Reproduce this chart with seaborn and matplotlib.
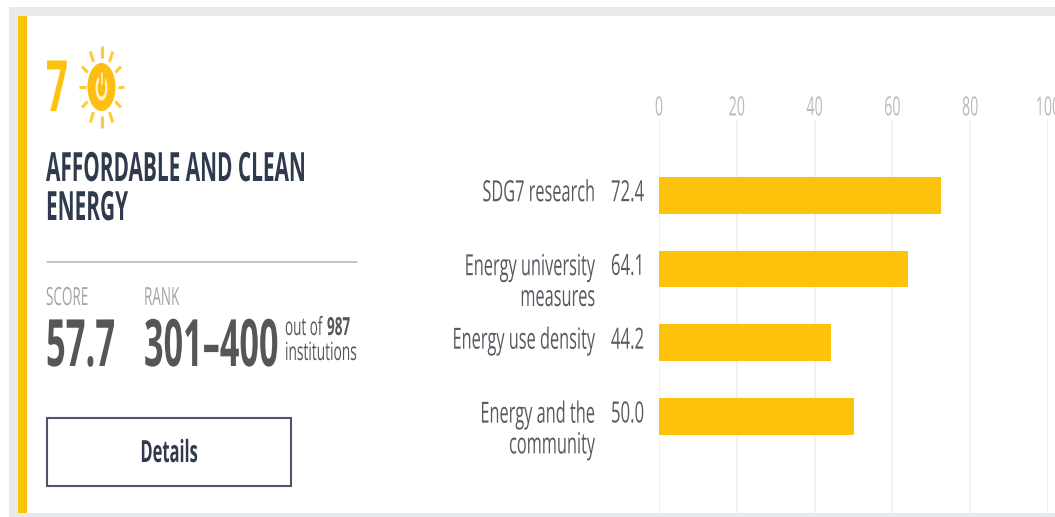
import numpy as np
import pandas as pd
import matplotlib
matplotlib.use("Agg")
import matplotlib.pyplot as plt
import matplotlib.patheffects as pe
from matplotlib.patches import Rectangle, Ellipse
from matplotlib.transforms import Affine2D, Bbox, ScaledTranslation
import seaborn as sns

# data
indicators = ["SDG7 research", "Energy university\nmeasures", "Energy use density", "Energy and the\ncommunity"]
scores = [72.4, 64.1, 44.2, 50.0]
x_ticks = [0, 20, 40, 60, 80, 100]

W, H = 1055, 517
YELLOW = "#fdc30c"
NAVY = "#303a4e"
DARK = "#565656"
GREY = "#a3a3a3"
LABEL = "#565b62"


# the reference is stretched: narrow every text around its own anchor
class Squeeze(pe.AbstractPathEffect):
    def __init__(self, text, sx):
        super().__init__()
        self.text = text
        self.sx = sx

    def transform(self):
        x0 = self.text.get_transform().transform(self.text.get_unitless_position())[0]
        return Affine2D().translate(-x0, 0).scale(self.sx, 1).translate(x0, 0)

    def draw_path(self, renderer, gc, tpath, affine, rgbFace=None):
        renderer.draw_path(gc, tpath, affine + self.transform(), rgbFace)


def narrow(t, sx=0.54):
    effect = Squeeze(t, sx)
    t.set_path_effects([effect])
    full_extent = t.get_window_extent

    # report the box that is really inked
    def extent(renderer=None, dpi=None):
        return Bbox(full_extent(renderer, dpi)).transformed(effect.transform())

    t.get_window_extent = extent
    return t


sns.set_theme(style="white")
plt.rcParams["font.family"] = ["Open Sans", "DejaVu Sans"]

df = pd.DataFrame({"indicator": indicators, "score": scores})

fig = plt.figure(figsize=(W / 100, H / 100), dpi=100, facecolor="white")

# pixel canvas for the card
bg = fig.add_axes([0, 0, 1, 1], zorder=0)
bg.set_xlim(0, W)
bg.set_ylim(H, 0)
bg.axis("off")
bg.add_patch(Rectangle((9, 7), W - 9, H - 7, fc="#e8ebee", ec="none"))
bg.add_patch(Rectangle((18, 16), W - 18, 497, fc="white", ec="none"))
bg.add_patch(Rectangle((18, 16), 9, 497, fc=YELLOW, ec="none"))

# sun icon
cx, cy = 101.5, 87
for a in np.deg2rad(np.arange(0, 360, 30)):
    bg.plot([cx + 16 * np.cos(a), cx + 22.5 * np.cos(a)],
            [cy + 29 * np.sin(a), cy + 41 * np.sin(a)],
            color="#fdcb3a", lw=2.2, solid_capstyle="butt")
bg.add_patch(Ellipse((cx, cy), 28, 48, fc="#fdbd12", ec="none"))
bg.add_patch(Ellipse((cx, cy + 1), 12, 25, fc="#fff3c8", ec="none"))
bg.add_patch(Ellipse((cx, cy + 1), 7.5, 17, fc="#fdbd12", ec="none"))
bg.add_patch(Rectangle((cx - 3, cy - 15), 6, 11, fc="#fdbd12", ec="none"))
bg.plot([cx, cx], [cy - 14, cy - 3], color="#fff3c8", lw=1.1)


def label(x, y, s, size, color, weight="normal", ha="left", sx=0.54):
    return narrow(bg.text(x, y, s, fontsize=size, color=color, fontweight=weight, ha=ha, va="baseline"), sx)


label(46, 111, "7", 51, YELLOW, "bold")
label(46, 181, "AFFORDABLE AND CLEAN", 29, NAVY, "bold", sx=0.517)
label(46, 220, "ENERGY", 29, NAVY, "bold", sx=0.517)
bg.plot([47, 357], [262, 262], color="#b5b3b3", lw=1.1)
label(46, 305, "SCORE", 18, GREY)
label(144, 305, "RANK", 18, GREY)
label(46, 366, "57.7", 47, DARK, "bold", sx=0.53)
label(144, 366, "301–400", 47, DARK, "bold", sx=0.525)
label(285, 335, "out of", 18, DARK)
label(327, 335, "987", 18, DARK, "bold")
label(285, 360, "institutions", 18, DARK, sx=0.55)
bg.add_patch(Rectangle((47, 418), 244, 68, fc="white", ec="#4b5668", lw=1.5))
label(169, 462, "Details", 22, NAVY, "bold", ha="center")

# bar chart
ax = fig.add_axes([659 / W, (H - 513) / H, 389 / W, 393 / H], zorder=1, facecolor="none")
sns.barplot(data=df, x="score", y="indicator", color=YELLOW, saturation=1, width=0.5, ax=ax, zorder=3, linewidth=0)
ax.set_xlim(0, 100)
ax.set_ylim(4.31, -1.02)
ax.set_xlabel("")
ax.set_ylabel("")
ax.set_xticks(x_ticks)
ax.grid(axis="x", color="#eeeeee", lw=1.1)
ax.set_axisbelow(True)
sns.despine(ax=ax, left=True, bottom=True)
ax.xaxis.tick_top()
ax.tick_params(axis="x", length=0, pad=-1, labelsize=19, labelcolor="#b9b9b9")
ax.tick_params(axis="y", length=0, pad=46, labelsize=21, labelcolor=LABEL)

for t in ax.get_xticklabels():
    narrow(t)
for t in ax.get_yticklabels():
    # matplotlib's baseline is the last line, the first one has to sit level with the value
    lines = t.get_text().count("\n")
    shift = ScaledTranslation(0, (-6 - 31 * lines) / 100, fig.dpi_scale_trans)
    t.set_verticalalignment("baseline")
    t.set_linespacing(1.08)
    t.set_transform(t.get_transform() + shift)
    narrow(t, 0.56)

for i, v in enumerate(scores):
    narrow(ax.annotate(f"{v:.1f}", xy=(0, i), xytext=(-34.6, -4.3), textcoords="offset points",
                       ha="left", va="baseline", fontsize=21, color=LABEL), 0.575)

fig.savefig("out.png", dpi=100, facecolor="white")
